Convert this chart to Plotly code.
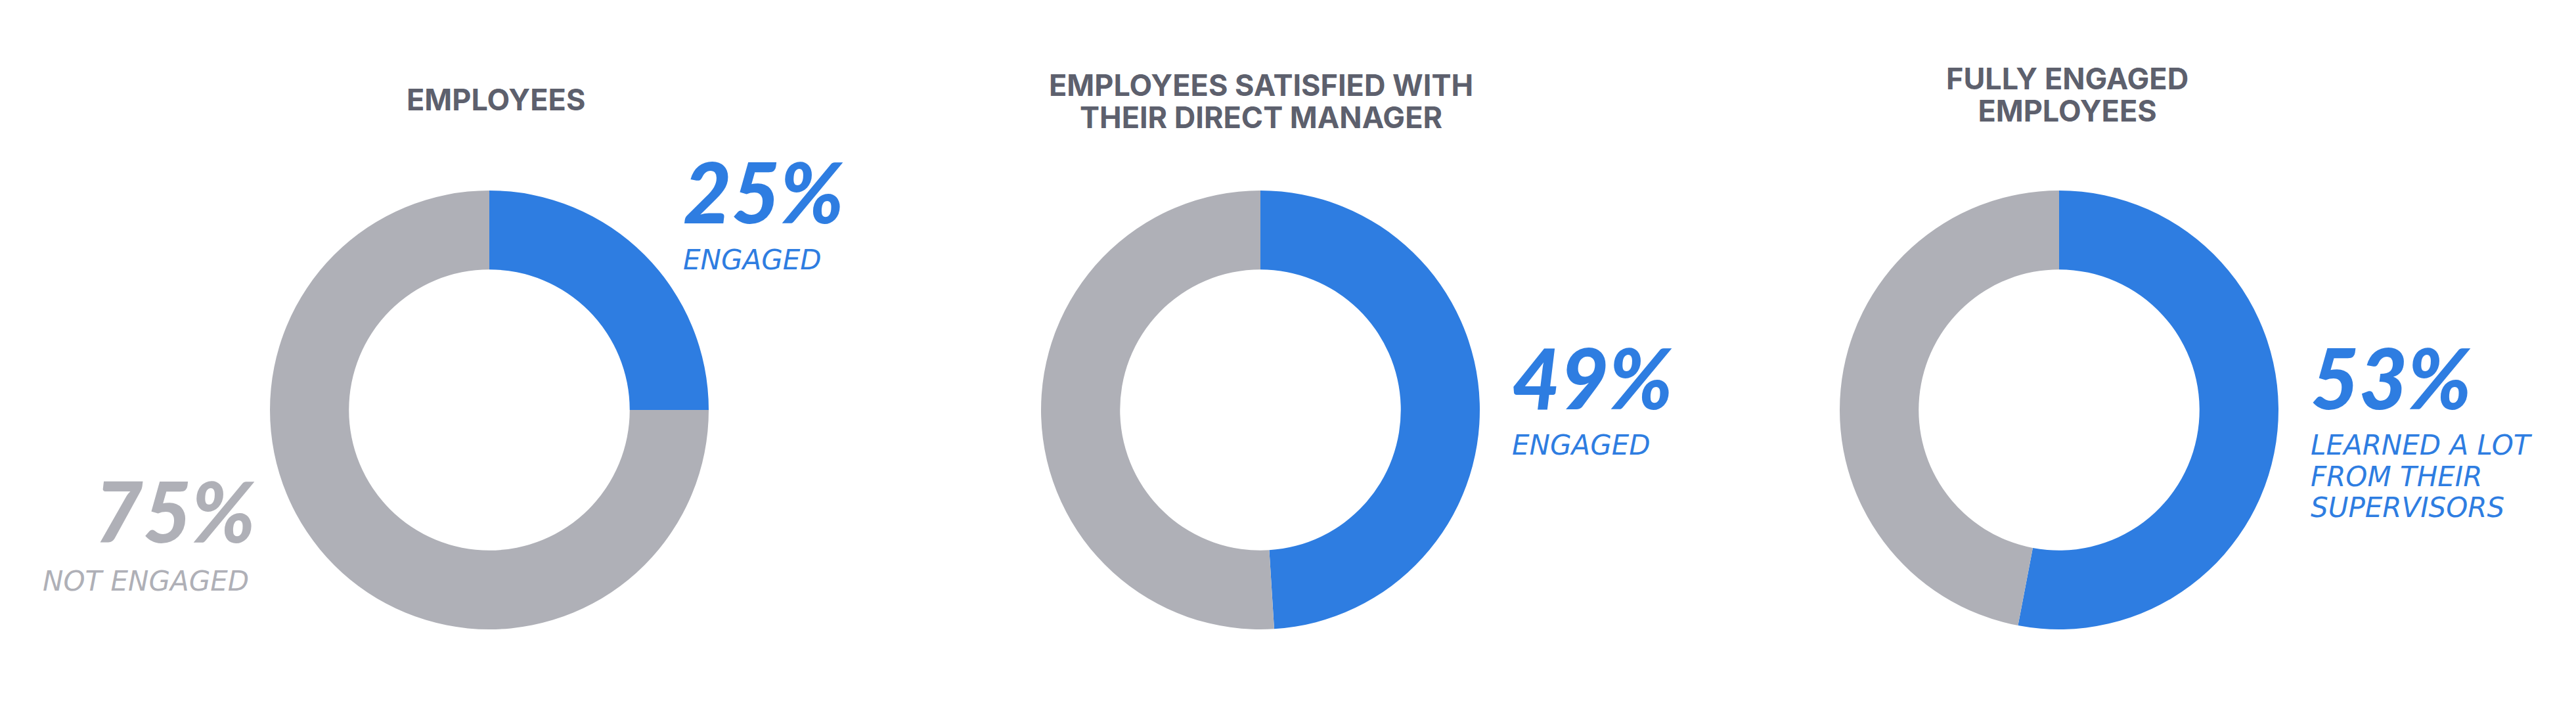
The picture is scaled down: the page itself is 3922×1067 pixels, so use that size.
import plotly.graph_objects as go

# ---- data ----
chart_titles = [
    ["EMPLOYEES"],
    ["EMPLOYEES SATISFIED WITH", "THEIR DIRECT MANAGER"],
    ["FULLY ENGAGED", "EMPLOYEES"],
]
highlight_values = [25, 49, 53]
rest_values = [75, 51, 47]
highlight_pct_labels = ["25%", "49%", "53%"]
highlight_captions = [
    ["ENGAGED"],
    ["ENGAGED"],
    ["LEARNED A LOT", "FROM THEIR", "SUPERVISORS"],
]
rest_pct_label = "75%"
rest_caption = "NOT ENGAGED"

# ---- styling ----
W, H = 3922, 1067
BLUE = "#2e7de1"
GRAY = "#afb0b7"
TITLE = "#5d606d"
centers_x = [745, 1919, 3135]
CY = 624
R = 334
NUM_FONT = "Lato"
CAP_FONT = "DejaVu Sans"
CAP_SIZE = 42
CAP_PITCH = 47.5
NUM_SIZE = 127
TITLE_SIZE = 45
TITLE_PITCH = 48.5

fig = go.Figure()
for i in range(3):
    cx = centers_x[i]
    fig.add_trace(go.Pie(
        values=[highlight_values[i], rest_values[i]],
        labels=["highlight", "rest"],
        marker=dict(colors=[BLUE, GRAY], line=dict(width=0)),
        hole=0.64,
        sort=False,
        direction="clockwise",
        rotation=0,
        textinfo="none",
        hoverinfo="skip",
        showlegend=False,
        domain=dict(x=[(cx - R) / W, (cx + R) / W],
                    y=[(H - CY - R) / H, (H - CY + R) / H]),
    ))

ann = []

def add_text(text, px, py, size, color, family, anchor, align="center",
             weight="normal", style="normal"):
    ann.append(dict(
        text=text, x=px / W, y=(H - py) / H, xref="paper", yref="paper",
        xanchor=anchor, yanchor="middle", align=align, showarrow=False, borderpad=0,
        font=dict(size=size, color=color, family=family, weight=weight, style=style),
    ))

def multiline(lines, size, pitch, wrap=("", "")):
    # base font size sets line pitch (1.3 em); spans carry the visible size
    base = pitch / 1.3
    t = "<br>".join('<span style="font-size:%.1fpx">%s%s%s</span>' % (size, wrap[0], l, wrap[1])
                    for l in lines)
    return t, base

# titles
title_cx = [755, 1920, 3147]
title_top_mid = [152, 130, 120]
for i in range(3):
    lines = chart_titles[i]
    t, base = multiline(lines, TITLE_SIZE, TITLE_PITCH, ("<b>", "</b>"))
    mid = title_top_mid[i] + TITLE_PITCH * (len(lines) - 1) / 2
    add_text(t, title_cx[i], mid, base, TITLE, "Inter", "center", "center")

# highlight labels
pct_pos = [(1039, 291), (2301, 573.5), (3517, 574)]
cap_first = [395, 677, 677]
for i in range(3):
    px, py = pct_pos[i]
    add_text(highlight_pct_labels[i], px, py, NUM_SIZE, BLUE,
             NUM_FONT, "left", "left", weight=900, style="italic")
    lines = highlight_captions[i]
    t, base = multiline(lines, CAP_SIZE, CAP_PITCH, ("<i>", "</i>"))
    mid = cap_first[i] + CAP_PITCH * (len(lines) - 1) / 2
    add_text(t, px, mid, base, BLUE, CAP_FONT, "left", "left")

# rest labels (first chart)
add_text(rest_pct_label, 390, 776.5, NUM_SIZE, GRAY, NUM_FONT, "right", "right",
         weight=900, style="italic")
t, base = multiline([rest_caption], CAP_SIZE, CAP_PITCH, ("<i>", "</i>"))
add_text(t, 380, 884.5, base, GRAY, CAP_FONT, "right", "right")

fig.update_layout(
    width=W, height=H, autosize=False,
    margin=dict(l=0, r=0, t=0, b=0),
    paper_bgcolor="white", plot_bgcolor="white",
    annotations=ann,
)

fig.write_html("out.html", config={"displayModeBar": False},
               post_script="document.body.style.margin='0';document.body.style.overflow='hidden';")
